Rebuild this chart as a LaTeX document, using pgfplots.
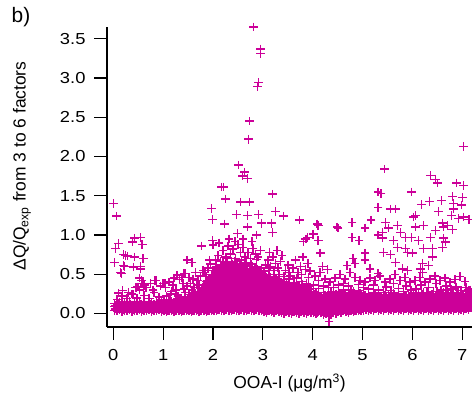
\documentclass[border=0pt]{standalone}
\usepackage{fontspec}
\setmainfont{Liberation Sans}
\newfontfamily\tickfont{Liberation Sans}[FakeStretch=1.15]
\usepackage{pgfplots}
\pgfplotsset{compat=1.18}
\definecolor{mag}{RGB}{204,0,153}
\pgfdeclareplotmark{magplus}{%
  \pgfsetstrokecolor{mag}%
  \pgfsetlinewidth{1.5pt}%
  \pgfpathmoveto{\pgfqpoint{\pgfplotmarksize}{0pt}}%
  \pgfpathlineto{\pgfqpoint{-\pgfplotmarksize}{0pt}}%
  \pgfpathmoveto{\pgfqpoint{0pt}{\pgfplotmarksize}}%
  \pgfpathlineto{\pgfqpoint{0pt}{-\pgfplotmarksize}}%
  \pgfusepathqstroke}
\pgfplotsset{pt/.style={only marks, mark=magplus, mark size=4.3pt, draw=mag}}
\begin{document}
\begin{tikzpicture}[x=1bp,y=1bp]
\path[use as bounding box] (0,0) rectangle (472,399);
\begin{axis}[
 at={(107bp,72bp)}, anchor=south west,
 scale only axis, width=365bp, height=299.7bp,
 xmin=-0.127, xmax=7.195, ymin=-0.172, ymax=3.646,
 axis x line*=bottom, axis y line*=left,
 axis line style={line width=1.2pt, -},
 tick align=outside, major tick length=13bp,
 tick style={line width=1.2pt, black},
 xtick={0,1,2,3,4,5,6,7}, ytick={0,0.5,1,1.5,2,2.5,3,3.5},
 minor tick num=0,
 yticklabel style={/pgf/number format/fixed, /pgf/number format/fixed zerofill, /pgf/number format/precision=1, xshift=-5bp},
 xticklabel style={yshift=-6bp},
 tick label style={font=\tickfont\fontsize{16}{19}\selectfont},
 /pgf/number format/assume math mode=true,
 xlabel={OOA-I (μg/m\textsuperscript{3})},
 ylabel={ΔQ/Q\textsubscript{exp} from 3 to 6 factors},
 label style={font=\fontsize{17.5}{21}\selectfont},
 xlabel style={at={(axis description cs:0.5,-0.187)}, anchor=center},
 ylabel style={at={(axis description cs:-0.233,0.537)}, anchor=center},
 clip=false,
]
\addplot[pt] coordinates {
(0.02,0.04)(0.02,0.09)(0.02,0.13)
(0.07,0.03)(0.07,0.08)(0.07,0.12)(0.07,0.18)
(0.12,0.05)(0.12,0.10)(0.12,0.14)
(0.17,0.02)(0.17,0.07)(0.17,0.11)(0.17,0.22)
(0.22,0.04)(0.22,0.09)(0.22,0.13)
(0.27,0.03)(0.27,0.08)(0.27,0.12)(0.27,0.19)
(0.32,0.05)(0.32,0.10)(0.32,0.15)
(0.37,0.02)(0.37,0.06)(0.37,0.11)(0.37,0.25)
(0.42,0.04)(0.42,0.09)(0.42,0.13)
(0.47,0.03)(0.47,0.07)(0.47,0.12)(0.47,0.20)
(0.52,0.05)(0.52,0.10)(0.52,0.14)(0.52,0.30)
(0.57,0.02)(0.57,0.08)(0.57,0.12)
(0.62,0.04)(0.62,0.09)(0.62,0.15)(0.62,0.23)
(0.67,0.03)(0.67,0.07)(0.67,0.11)
(0.72,0.05)(0.72,0.10)(0.72,0.14)(0.72,0.19)
(0.77,0.02)(0.77,0.08)(0.77,0.13)
(0.82,0.04)(0.82,0.09)(0.82,0.12)(0.82,0.27)
(0.87,0.03)(0.87,0.07)(0.87,0.14)
(0.92,0.05)(0.92,0.10)(0.92,0.13)(0.92,0.21)
(0.97,0.02)(0.97,0.08)(0.97,0.12)(0.97,0.17)
(0.045,0.06)(0.045,0.10)(0.095,0.07)(0.095,0.12)(0.145,0.06)(0.145,0.10)(0.195,0.05)(0.195,0.11)(0.245,0.07)(0.245,0.11)
(0.295,0.06)(0.295,0.10)(0.345,0.07)(0.345,0.12)(0.395,0.05)(0.395,0.09)(0.445,0.06)(0.445,0.11)(0.495,0.07)(0.495,0.10)
(0.545,0.06)(0.545,0.12)(0.595,0.05)(0.595,0.10)(0.645,0.07)(0.645,0.11)(0.695,0.06)(0.695,0.09)(0.745,0.07)(0.745,0.12)
(0.795,0.05)(0.795,0.10)(0.845,0.06)(0.845,0.11)(0.895,0.07)(0.895,0.10)(0.945,0.06)(0.945,0.12)(0.995,0.05)(0.995,0.10)
(0.56,0.42)(0.86,0.42)(0.50,0.34)(0.18,0.29)(0.30,0.27)(0.66,0.33)(0.75,0.38)(0.95,0.35)(0.40,0.24)(0.10,0.26)(0.80,0.30)(0.62,0.36)(0.45,0.33)
(0.00,1.40)(0.06,1.24)(0.10,0.89)(0.04,0.83)(0.38,0.91)(0.42,0.96)(0.54,0.97)(0.58,0.88)(0.20,0.75)(0.28,0.73)(0.42,0.72)(0.60,0.70)(0.02,0.65)(0.14,0.52)(0.22,0.60)(0.40,0.59)(0.54,0.60)
(0.24,0.74)(0.20,0.61)(0.54,0.57)(0.16,0.51)(0.52,0.45)(0.60,0.38)(0.48,0.34)(1.00,0.38)
};
\addplot[pt] coordinates {
(1.02,0.03)(1.02,0.07)(1.02,0.11)(1.02,0.15)
(1.07,0.02)(1.07,0.06)(1.07,0.10)(1.07,0.14)(1.07,0.22)
(1.12,0.04)(1.12,0.08)(1.12,0.12)(1.12,0.17)
(1.17,0.03)(1.17,0.07)(1.17,0.11)(1.17,0.15)(1.17,0.28)
(1.22,0.02)(1.22,0.06)(1.22,0.10)(1.22,0.14)
(1.27,0.04)(1.27,0.08)(1.27,0.12)(1.27,0.16)(1.27,0.24)
(1.32,0.03)(1.32,0.07)(1.32,0.11)(1.32,0.15)
(1.37,0.02)(1.37,0.06)(1.37,0.10)(1.37,0.14)(1.37,0.20)
(1.42,0.04)(1.42,0.08)(1.42,0.12)(1.42,0.17)(1.42,0.31)
(1.47,0.03)(1.47,0.07)(1.47,0.11)(1.47,0.15)
(1.045,0.05)(1.045,0.09)(1.045,0.13)(1.095,0.04)(1.095,0.08)(1.095,0.12)(1.145,0.06)(1.145,0.10)(1.145,0.14)
(1.195,0.05)(1.195,0.09)(1.195,0.13)(1.245,0.04)(1.245,0.08)(1.245,0.12)(1.245,0.18)(1.295,0.06)(1.295,0.10)(1.295,0.14)
(1.345,0.05)(1.345,0.09)(1.345,0.13)(1.345,0.19)(1.395,0.04)(1.395,0.08)(1.395,0.12)(1.395,0.16)
(1.445,0.06)(1.445,0.10)(1.445,0.14)(1.445,0.21)(1.495,0.05)(1.495,0.09)(1.495,0.13)(1.495,0.18)
(1.05,0.33)(1.12,0.40)(1.20,0.36)(1.26,0.30)(1.33,0.43)(1.40,0.38)(1.44,0.27)(1.15,0.25)(1.30,0.22)(1.48,0.35)(1.38,0.46)(1.22,0.45)(0.84,0.42)(1.04,0.38)(1.28,0.49)(1.44,0.51)(1.52,0.46)(1.48,0.68)
(1.52,0.03)(1.52,0.07)(1.52,0.11)(1.52,0.15)(1.52,0.19)(1.52,0.24)
(1.57,0.02)(1.57,0.06)(1.57,0.10)(1.57,0.14)(1.57,0.18)(1.57,0.22)
(1.62,0.04)(1.62,0.08)(1.62,0.12)(1.62,0.16)(1.62,0.20)(1.62,0.26)(1.62,0.33)
(1.67,0.03)(1.67,0.07)(1.67,0.11)(1.67,0.15)(1.67,0.19)(1.67,0.23)
(1.72,0.02)(1.72,0.06)(1.72,0.10)(1.72,0.14)(1.72,0.18)(1.72,0.22)(1.72,0.28)(1.72,0.36)
(1.77,0.04)(1.77,0.08)(1.77,0.12)(1.77,0.16)(1.77,0.20)(1.77,0.25)(1.77,0.31)
(1.545,0.05)(1.545,0.09)(1.545,0.13)(1.545,0.17)(1.545,0.21)(1.595,0.04)(1.595,0.08)(1.595,0.12)(1.595,0.16)(1.595,0.20)(1.595,0.25)
(1.645,0.06)(1.645,0.10)(1.645,0.14)(1.645,0.18)(1.645,0.22)(1.695,0.05)(1.695,0.09)(1.695,0.13)(1.695,0.17)(1.695,0.21)(1.695,0.26)
(1.745,0.04)(1.745,0.08)(1.745,0.12)(1.745,0.16)(1.745,0.20)(1.745,0.24)(1.795,0.06)(1.795,0.10)(1.795,0.14)(1.795,0.18)(1.795,0.22)(1.795,0.27)(1.795,0.33)
(1.55,0.38)(1.60,0.44)(1.65,0.52)(1.70,0.42)(1.75,0.48)(1.58,0.30)(1.68,0.37)(1.80,0.55)(1.42,0.51)(1.58,0.65)(1.77,0.86)
};
\addplot[pt] coordinates {
(1.82,0.03)(1.82,0.07)(1.82,0.11)(1.82,0.15)(1.82,0.19)(1.82,0.23)(1.82,0.27)(1.82,0.31)(1.82,0.37)
(1.87,0.02)(1.87,0.06)(1.87,0.10)(1.87,0.14)(1.87,0.18)(1.87,0.22)(1.87,0.26)(1.87,0.30)(1.87,0.35)(1.87,0.41)
(1.92,0.04)(1.92,0.08)(1.92,0.12)(1.92,0.16)(1.92,0.20)(1.92,0.24)(1.92,0.28)(1.92,0.33)(1.92,0.39)(1.92,0.45)
(1.97,0.03)(1.97,0.07)(1.97,0.11)(1.97,0.15)(1.97,0.19)(1.97,0.23)(1.97,0.27)(1.97,0.32)(1.97,0.38)(1.97,0.44)(1.97,0.50)
(1.845,0.05)(1.845,0.09)(1.845,0.13)(1.845,0.17)(1.845,0.21)(1.845,0.25)(1.845,0.29)(1.845,0.34)
(1.895,0.04)(1.895,0.08)(1.895,0.12)(1.895,0.16)(1.895,0.20)(1.895,0.24)(1.895,0.28)(1.895,0.32)(1.895,0.38)
(1.945,0.06)(1.945,0.10)(1.945,0.14)(1.945,0.18)(1.945,0.22)(1.945,0.26)(1.945,0.31)(1.945,0.36)(1.945,0.42)
(1.995,0.05)(1.995,0.09)(1.995,0.13)(1.995,0.17)(1.995,0.21)(1.995,0.25)(1.995,0.30)(1.995,0.35)(1.995,0.41)(1.995,0.47)
(1.84,0.52)(1.90,0.58)(1.95,0.63)(1.99,0.55)(1.86,0.47)(1.93,0.68)(2.00,0.87)(1.99,0.93)(1.97,1.34)(1.99,1.20)(2.21,1.61)
(2.02,0.04)(2.02,0.09)(2.02,0.14)(2.02,0.19)(2.02,0.24)(2.02,0.29)(2.02,0.34)(2.02,0.39)(2.02,0.44)(2.02,0.49)(2.02,0.55)
(2.07,0.03)(2.07,0.07)(2.07,0.12)(2.07,0.17)(2.07,0.22)(2.07,0.27)(2.07,0.32)(2.07,0.37)(2.07,0.42)(2.07,0.47)(2.07,0.52)(2.07,0.60)
(2.12,0.05)(2.12,0.10)(2.12,0.15)(2.12,0.20)(2.12,0.25)(2.12,0.30)(2.12,0.35)(2.12,0.40)(2.12,0.45)(2.12,0.50)(2.12,0.57)
(2.17,0.04)(2.17,0.08)(2.17,0.13)(2.17,0.18)(2.17,0.23)(2.17,0.28)(2.17,0.33)(2.17,0.38)(2.17,0.43)(2.17,0.48)(2.17,0.54)(2.17,0.62)
(2.22,0.03)(2.22,0.09)(2.22,0.14)(2.22,0.19)(2.22,0.24)(2.22,0.29)(2.22,0.34)(2.22,0.39)(2.22,0.44)(2.22,0.50)(2.22,0.58)
(2.27,0.05)(2.27,0.10)(2.27,0.15)(2.27,0.20)(2.27,0.25)(2.27,0.30)(2.27,0.35)(2.27,0.40)(2.27,0.46)(2.27,0.52)(2.27,0.61)(2.27,0.70)
(2.32,0.04)(2.32,0.08)(2.32,0.13)(2.32,0.18)(2.32,0.23)(2.32,0.28)(2.32,0.33)(2.32,0.38)(2.32,0.43)(2.32,0.49)(2.32,0.56)
(2.37,0.03)(2.37,0.09)(2.37,0.14)(2.37,0.19)(2.37,0.24)(2.37,0.29)(2.37,0.34)(2.37,0.39)(2.37,0.45)(2.37,0.51)(2.37,0.59)(2.37,0.66)
};
\addplot[pt] coordinates {
(2.045,0.06)(2.045,0.11)(2.045,0.16)(2.045,0.21)(2.045,0.26)(2.045,0.31)(2.045,0.36)(2.045,0.41)(2.045,0.46)(2.045,0.52)(2.045,0.58)
(2.095,0.05)(2.095,0.10)(2.095,0.15)(2.095,0.20)(2.095,0.25)(2.095,0.30)(2.095,0.35)(2.095,0.40)(2.095,0.45)(2.095,0.50)(2.095,0.56)
(2.145,0.07)(2.145,0.12)(2.145,0.17)(2.145,0.22)(2.145,0.27)(2.145,0.32)(2.145,0.37)(2.145,0.42)(2.145,0.47)(2.145,0.53)(2.145,0.60)
(2.195,0.06)(2.195,0.11)(2.195,0.16)(2.195,0.21)(2.195,0.26)(2.195,0.31)(2.195,0.36)(2.195,0.41)(2.195,0.46)(2.195,0.51)(2.195,0.58)(2.195,0.66)
(2.245,0.05)(2.245,0.11)(2.245,0.16)(2.245,0.21)(2.245,0.26)(2.245,0.31)(2.245,0.36)(2.245,0.42)(2.245,0.47)(2.245,0.54)(2.245,0.63)
(2.295,0.07)(2.295,0.12)(2.295,0.17)(2.295,0.22)(2.295,0.27)(2.295,0.32)(2.295,0.37)(2.295,0.43)(2.295,0.49)(2.295,0.56)(2.295,0.65)
(2.345,0.06)(2.345,0.11)(2.345,0.16)(2.345,0.21)(2.345,0.26)(2.345,0.31)(2.345,0.36)(2.345,0.41)(2.345,0.46)(2.345,0.53)(2.345,0.62)
(2.395,0.05)(2.395,0.11)(2.395,0.16)(2.395,0.21)(2.395,0.26)(2.395,0.31)(2.395,0.37)(2.395,0.42)(2.395,0.48)(2.395,0.55)(2.395,0.63)
(2.445,0.07)(2.445,0.12)(2.445,0.17)(2.445,0.22)(2.445,0.27)(2.445,0.32)(2.445,0.38)(2.445,0.44)(2.445,0.50)(2.445,0.57)(2.445,0.66)
(2.495,0.06)(2.495,0.11)(2.495,0.16)(2.495,0.21)(2.495,0.26)(2.495,0.31)(2.495,0.36)(2.495,0.41)(2.495,0.47)(2.495,0.54)(2.495,0.61)
(2.545,0.05)(2.545,0.11)(2.545,0.16)(2.545,0.21)(2.545,0.26)(2.545,0.32)(2.545,0.37)(2.545,0.43)(2.545,0.49)(2.545,0.56)(2.545,0.64)
(2.595,0.07)(2.595,0.12)(2.595,0.17)(2.595,0.22)(2.595,0.27)(2.595,0.33)(2.595,0.39)(2.595,0.45)(2.595,0.51)(2.595,0.58)
(2.42,0.05)(2.42,0.10)(2.42,0.15)(2.42,0.20)(2.42,0.25)(2.42,0.30)(2.42,0.35)(2.42,0.41)(2.42,0.47)(2.42,0.53)(2.42,0.60)
(2.47,0.04)(2.47,0.08)(2.47,0.13)(2.47,0.18)(2.47,0.23)(2.47,0.28)(2.47,0.33)(2.47,0.38)(2.47,0.44)(2.47,0.50)(2.47,0.57)(2.47,0.64)
(2.52,0.03)(2.52,0.09)(2.52,0.14)(2.52,0.19)(2.52,0.24)(2.52,0.29)(2.52,0.34)(2.52,0.40)(2.52,0.46)(2.52,0.52)(2.52,0.58)
(2.57,0.05)(2.57,0.10)(2.57,0.15)(2.57,0.20)(2.57,0.25)(2.57,0.30)(2.57,0.36)(2.57,0.42)(2.57,0.48)(2.57,0.54)(2.57,0.61)(2.57,0.68)
(2.05,0.68)(2.10,0.74)(2.15,0.66)(2.20,0.80)(2.25,0.72)(2.30,0.86)(2.35,0.76)(2.40,0.82)(2.45,0.70)(2.50,0.88)(2.55,0.78)(2.60,0.84)(2.12,0.90)(2.32,0.95)(2.44,0.92)(2.23,1.14)(2.49,1.02)(2.47,1.26)(2.55,1.42)(2.25,1.46)(2.17,1.61)(2.51,1.89)(2.63,1.80)(2.59,1.75)(2.69,1.72)(2.73,2.45)(2.71,2.22)(2.91,2.94)(2.89,2.89)(2.95,3.37)(2.95,3.31)(2.81,3.65)
};
\addplot[pt] coordinates {
(2.62,0.04)(2.62,0.09)(2.62,0.14)(2.62,0.19)(2.62,0.24)(2.62,0.29)(2.62,0.34)(2.62,0.39)(2.62,0.45)(2.62,0.51)(2.62,0.58)
(2.67,0.03)(2.67,0.08)(2.67,0.13)(2.67,0.18)(2.67,0.23)(2.67,0.28)(2.67,0.33)(2.67,0.38)(2.67,0.43)(2.67,0.49)(2.67,0.56)(2.67,0.65)
(2.72,0.05)(2.72,0.10)(2.72,0.15)(2.72,0.20)(2.72,0.25)(2.72,0.30)(2.72,0.35)(2.72,0.40)(2.72,0.46)(2.72,0.53)
(2.77,0.04)(2.77,0.09)(2.77,0.14)(2.77,0.19)(2.77,0.24)(2.77,0.29)(2.77,0.34)(2.77,0.39)(2.77,0.44)(2.77,0.50)(2.77,0.57)(2.77,0.63)
(2.82,0.03)(2.82,0.08)(2.82,0.13)(2.82,0.18)(2.82,0.23)(2.82,0.28)(2.82,0.33)(2.82,0.38)(2.82,0.43)(2.82,0.48)(2.82,0.55)
(2.87,0.05)(2.87,0.10)(2.87,0.15)(2.87,0.20)(2.87,0.25)(2.87,0.30)(2.87,0.35)(2.87,0.41)(2.87,0.47)(2.87,0.53)(2.87,0.60)(2.87,0.69)
(2.92,0.04)(2.92,0.09)(2.92,0.14)(2.92,0.19)(2.92,0.24)(2.92,0.29)(2.92,0.34)(2.92,0.39)(2.92,0.44)(2.92,0.50)
(2.97,0.03)(2.97,0.08)(2.97,0.13)(2.97,0.18)(2.97,0.23)(2.97,0.28)(2.97,0.33)(2.97,0.38)(2.97,0.44)(2.97,0.51)(2.97,0.58)
(2.645,0.06)(2.645,0.11)(2.645,0.16)(2.645,0.21)(2.645,0.26)(2.645,0.31)(2.645,0.36)(2.645,0.42)(2.645,0.48)(2.645,0.54)(2.645,0.61)
(2.695,0.05)(2.695,0.10)(2.695,0.15)(2.695,0.20)(2.695,0.25)(2.695,0.30)(2.695,0.36)(2.695,0.41)(2.695,0.46)(2.695,0.52)(2.695,0.60)
(2.745,0.07)(2.745,0.12)(2.745,0.17)(2.745,0.22)(2.745,0.27)(2.745,0.32)(2.745,0.37)(2.745,0.43)(2.745,0.49)(2.745,0.56)
(2.795,0.06)(2.795,0.11)(2.795,0.16)(2.795,0.21)(2.795,0.26)(2.795,0.31)(2.795,0.36)(2.795,0.41)(2.795,0.47)(2.795,0.53)(2.795,0.60)
(2.845,0.05)(2.845,0.10)(2.845,0.15)(2.845,0.20)(2.845,0.25)(2.845,0.30)(2.845,0.35)(2.845,0.40)(2.845,0.45)(2.845,0.51)(2.845,0.58)
(2.895,0.07)(2.895,0.12)(2.895,0.17)(2.895,0.22)(2.895,0.27)(2.895,0.32)(2.895,0.38)(2.895,0.44)(2.895,0.50)(2.895,0.56)
(2.945,0.06)(2.945,0.11)(2.945,0.16)(2.945,0.21)(2.945,0.26)(2.945,0.31)(2.945,0.36)(2.945,0.41)(2.945,0.47)(2.945,0.54)
(2.995,0.05)(2.995,0.10)(2.995,0.15)(2.995,0.20)(2.995,0.25)(2.995,0.30)(2.995,0.35)(2.995,0.41)(2.995,0.48)
(2.64,0.72)(2.70,0.78)(2.75,0.70)(2.80,0.83)(2.85,0.76)(2.90,0.72)(2.95,0.80)(2.69,1.10)(2.69,1.25)(2.73,1.42)(2.91,1.26)(2.87,1.00)(2.97,1.15)(2.78,0.92)(2.60,0.95)
};
\addplot[pt] coordinates {
(3.02,0.02)(3.02,0.06)(3.02,0.11)(3.02,0.16)(3.02,0.21)(3.02,0.26)(3.02,0.31)(3.02,0.36)(3.02,0.41)(3.02,0.47)(3.02,0.54)
(3.07,0.01)(3.07,0.05)(3.07,0.10)(3.07,0.15)(3.07,0.20)(3.07,0.25)(3.07,0.30)(3.07,0.35)(3.07,0.40)(3.07,0.46)
(3.12,0.03)(3.12,0.07)(3.12,0.12)(3.12,0.17)(3.12,0.22)(3.12,0.27)(3.12,0.32)(3.12,0.37)(3.12,0.43)(3.12,0.50)(3.12,0.58)
(3.17,0.02)(3.17,0.06)(3.17,0.11)(3.17,0.16)(3.17,0.21)(3.17,0.26)(3.17,0.31)(3.17,0.36)(3.17,0.42)
(3.22,0.01)(3.22,0.05)(3.22,0.10)(3.22,0.15)(3.22,0.20)(3.22,0.25)(3.22,0.30)(3.22,0.35)(3.22,0.40)(3.22,0.47)(3.22,0.55)
(3.27,0.03)(3.27,0.07)(3.27,0.12)(3.27,0.17)(3.27,0.22)(3.27,0.27)(3.27,0.32)(3.27,0.38)(3.27,0.44)
(3.32,0.02)(3.32,0.06)(3.32,0.11)(3.32,0.16)(3.32,0.21)(3.32,0.26)(3.32,0.31)(3.32,0.36)(3.32,0.42)(3.32,0.50)
(3.37,0.01)(3.37,0.05)(3.37,0.10)(3.37,0.15)(3.37,0.20)(3.37,0.25)(3.37,0.30)(3.37,0.35)(3.37,0.40)
(3.045,0.04)(3.045,0.08)(3.045,0.13)(3.045,0.18)(3.045,0.23)(3.045,0.28)(3.045,0.33)(3.045,0.38)(3.045,0.44)(3.045,0.50)
(3.095,0.03)(3.095,0.07)(3.095,0.12)(3.095,0.17)(3.095,0.22)(3.095,0.27)(3.095,0.32)(3.095,0.37)(3.095,0.43)
(3.145,0.05)(3.145,0.09)(3.145,0.14)(3.145,0.19)(3.145,0.24)(3.145,0.29)(3.145,0.34)(3.145,0.40)(3.145,0.46)
(3.195,0.04)(3.195,0.08)(3.195,0.13)(3.195,0.18)(3.195,0.23)(3.195,0.28)(3.195,0.33)(3.195,0.39)
(3.245,0.03)(3.245,0.07)(3.245,0.12)(3.245,0.17)(3.245,0.22)(3.245,0.27)(3.245,0.32)(3.245,0.37)(3.245,0.43)
(3.295,0.05)(3.295,0.09)(3.295,0.14)(3.295,0.19)(3.295,0.24)(3.295,0.29)(3.295,0.35)(3.295,0.41)
(3.345,0.04)(3.345,0.08)(3.345,0.13)(3.345,0.18)(3.345,0.23)(3.345,0.28)(3.345,0.33)(3.345,0.39)
(3.395,0.03)(3.395,0.07)(3.395,0.12)(3.395,0.17)(3.395,0.22)(3.395,0.27)(3.395,0.32)(3.395,0.38)
(3.05,0.62)(3.10,0.68)(3.15,0.60)(3.20,0.72)(3.25,0.64)(3.30,0.58)(3.35,0.66)(3.19,1.52)(3.25,1.30)(3.41,1.24)(3.17,1.15)(3.19,1.03)(3.13,0.78)(3.28,0.80)(3.38,0.74)(3.73,1.19)
};
\addplot[pt] coordinates {
(3.42,0.00)(3.42,0.04)(3.42,0.09)(3.42,0.14)(3.42,0.19)(3.42,0.24)(3.42,0.29)(3.42,0.34)(3.42,0.40)(3.42,0.47)
(3.47,0.02)(3.47,0.06)(3.47,0.11)(3.47,0.16)(3.47,0.21)(3.47,0.26)(3.47,0.31)(3.47,0.37)
(3.52,0.01)(3.52,0.05)(3.52,0.10)(3.52,0.15)(3.52,0.20)(3.52,0.25)(3.52,0.30)(3.52,0.36)(3.52,0.44)(3.52,0.52)
(3.57,0.00)(3.57,0.03)(3.57,0.08)(3.57,0.13)(3.57,0.18)(3.57,0.23)(3.57,0.28)(3.57,0.33)
(3.62,0.02)(3.62,0.06)(3.62,0.11)(3.62,0.16)(3.62,0.21)(3.62,0.26)(3.62,0.32)(3.62,0.39)
(3.67,0.01)(3.67,0.05)(3.67,0.10)(3.67,0.15)(3.67,0.20)(3.67,0.25)(3.67,0.30)(3.67,0.35)(3.67,0.45)
(3.72,0.00)(3.72,0.04)(3.72,0.09)(3.72,0.14)(3.72,0.19)(3.72,0.24)(3.72,0.29)(3.72,0.36)
(3.77,0.02)(3.77,0.06)(3.77,0.11)(3.77,0.16)(3.77,0.21)(3.77,0.26)(3.77,0.33)(3.77,0.41)(3.77,0.50)
(3.82,0.01)(3.82,0.05)(3.82,0.10)(3.82,0.15)(3.82,0.20)(3.82,0.25)(3.82,0.31)
(3.87,0.00)(3.87,0.04)(3.87,0.09)(3.87,0.14)(3.87,0.19)(3.87,0.24)(3.87,0.30)(3.87,0.38)
(3.92,0.02)(3.92,0.06)(3.92,0.11)(3.92,0.16)(3.92,0.21)(3.92,0.27)(3.92,0.35)(3.92,0.46)
(3.97,0.01)(3.97,0.05)(3.97,0.10)(3.97,0.15)(3.97,0.20)(3.97,0.26)
(3.445,0.02)(3.445,0.07)(3.445,0.12)(3.445,0.17)(3.445,0.22)(3.445,0.27)(3.445,0.32)
(3.495,0.04)(3.495,0.08)(3.495,0.13)(3.495,0.18)(3.495,0.23)(3.495,0.28)(3.495,0.34)
(3.545,0.03)(3.545,0.07)(3.545,0.12)(3.545,0.17)(3.545,0.22)(3.545,0.27)(3.545,0.33)
(3.595,0.02)(3.595,0.06)(3.595,0.11)(3.595,0.16)(3.595,0.21)(3.595,0.26)(3.595,0.31)
(3.645,0.04)(3.645,0.08)(3.645,0.13)(3.645,0.18)(3.645,0.23)(3.645,0.29)(3.645,0.35)
(3.695,0.03)(3.695,0.07)(3.695,0.12)(3.695,0.17)(3.695,0.22)(3.695,0.27)(3.695,0.33)
(3.745,0.02)(3.745,0.06)(3.745,0.11)(3.745,0.16)(3.745,0.21)(3.745,0.27)
(3.795,0.04)(3.795,0.08)(3.795,0.13)(3.795,0.18)(3.795,0.23)(3.795,0.29)(3.795,0.37)
(3.845,0.03)(3.845,0.07)(3.845,0.12)(3.845,0.17)(3.845,0.22)(3.845,0.28)
(3.895,0.02)(3.895,0.06)(3.895,0.11)(3.895,0.16)(3.895,0.21)(3.895,0.27)(3.895,0.34)
(3.945,0.04)(3.945,0.08)(3.945,0.13)(3.945,0.18)(3.945,0.24)(3.945,0.31)
(3.995,0.03)(3.995,0.07)(3.995,0.12)(3.995,0.17)(3.995,0.23)
(3.45,0.55)(3.50,0.62)(3.55,0.48)(3.60,0.58)(3.65,0.68)(3.70,0.52)(3.75,0.60)(3.80,0.72)(3.85,0.56)(3.90,0.64)(3.95,0.54)(3.89,0.97)(3.81,0.92)(3.86,0.95)(4.01,1.01)(4.11,0.93)(4.09,1.14)(4.15,0.77)
};
\addplot[pt] coordinates {
(4.02,0.01)(4.02,0.05)(4.02,0.10)(4.02,0.15)(4.02,0.21)(4.02,0.28)(4.02,0.36)
(4.07,0.00)(4.07,0.04)(4.07,0.09)(4.07,0.14)(4.07,0.19)(4.07,0.26)
(4.12,0.02)(4.12,0.06)(4.12,0.11)(4.12,0.17)(4.12,0.24)(4.12,0.32)(4.12,0.42)
(4.17,0.01)(4.17,0.05)(4.17,0.10)(4.17,0.15)(4.17,0.22)
(4.22,-0.01)(4.22,0.03)(4.22,0.08)(4.22,0.13)(4.22,0.19)(4.22,0.27)(4.22,0.35)
(4.27,0.00)(4.27,0.04)(4.27,0.09)(4.27,0.14)(4.27,0.20)
(4.32,-0.03)(4.32,0.02)(4.32,0.06)(4.32,0.11)(4.32,0.17)(4.32,0.25)(4.32,0.33)
(4.37,-0.01)(4.37,0.03)(4.37,0.08)(4.37,0.13)(4.37,0.19)(4.37,0.28)
(4.045,0.02)(4.045,0.07)(4.045,0.12)(4.045,0.18)(4.045,0.24)(4.095,0.01)(4.095,0.06)(4.095,0.11)(4.095,0.16)(4.095,0.22)
(4.145,0.03)(4.145,0.08)(4.145,0.13)(4.145,0.20)(4.195,0.02)(4.195,0.07)(4.195,0.12)(4.195,0.18)
(4.245,0.01)(4.245,0.05)(4.245,0.10)(4.245,0.16)(4.245,0.23)(4.295,0.02)(4.295,0.06)(4.295,0.11)(4.295,0.17)
(4.345,0.00)(4.345,0.04)(4.345,0.09)(4.345,0.15)(4.345,0.22)(4.395,0.01)(4.395,0.05)(4.395,0.10)(4.395,0.16)
(4.05,0.48)(4.15,0.52)(4.25,0.44)(4.35,0.40)(4.11,1.12)(4.49,1.10)(4.20,0.60)(4.30,0.56)(4.33,-0.10)
(4.42,0.01)(4.42,0.05)(4.42,0.10)(4.42,0.15)(4.42,0.20)(4.42,0.26)(4.42,0.33)
(4.47,0.00)(4.47,0.04)(4.47,0.09)(4.47,0.14)(4.47,0.19)(4.47,0.25)
(4.52,0.02)(4.52,0.06)(4.52,0.11)(4.52,0.16)(4.52,0.21)(4.52,0.28)(4.52,0.36)
(4.57,0.01)(4.57,0.05)(4.57,0.10)(4.57,0.15)(4.57,0.20)(4.57,0.26)
(4.62,0.03)(4.62,0.07)(4.62,0.12)(4.62,0.17)(4.62,0.23)(4.62,0.30)(4.62,0.38)
(4.67,0.02)(4.67,0.06)(4.67,0.11)(4.67,0.16)(4.67,0.22)
(4.72,0.01)(4.72,0.05)(4.72,0.10)(4.72,0.15)(4.72,0.20)(4.72,0.27)(4.72,0.35)
(4.77,0.03)(4.77,0.07)(4.77,0.12)(4.77,0.17)(4.77,0.23)(4.77,0.30)
(4.82,0.02)(4.82,0.06)(4.82,0.11)(4.82,0.16)(4.82,0.21)(4.82,0.28)
(4.87,0.04)(4.87,0.08)(4.87,0.13)(4.87,0.18)(4.87,0.24)
(4.92,0.03)(4.92,0.07)(4.92,0.12)(4.92,0.17)(4.92,0.22)(4.92,0.29)(4.92,0.37)
(4.97,0.04)(4.97,0.09)(4.97,0.14)(4.97,0.19)(4.97,0.25)
(4.445,0.03)(4.445,0.07)(4.445,0.12)(4.445,0.17)(4.445,0.22)(4.495,0.02)(4.495,0.06)(4.495,0.11)(4.495,0.17)
(4.545,0.04)(4.545,0.08)(4.545,0.13)(4.545,0.18)(4.545,0.24)(4.595,0.03)(4.595,0.07)(4.595,0.12)(4.595,0.18)
(4.645,0.05)(4.645,0.09)(4.645,0.14)(4.645,0.19)(4.645,0.26)(4.695,0.04)(4.695,0.08)(4.695,0.13)(4.695,0.19)
(4.745,0.03)(4.745,0.07)(4.745,0.12)(4.745,0.17)(4.745,0.24)(4.795,0.05)(4.795,0.09)(4.795,0.14)(4.795,0.20)
(4.845,0.04)(4.845,0.08)(4.845,0.13)(4.845,0.18)(4.845,0.25)(4.895,0.06)(4.895,0.10)(4.895,0.15)(4.895,0.21)
(4.945,0.05)(4.945,0.09)(4.945,0.14)(4.945,0.19)(4.945,0.26)(4.995,0.06)(4.995,0.11)(4.995,0.16)(4.995,0.22)
(4.45,0.45)(4.55,0.50)(4.65,0.44)(4.75,0.52)(4.85,0.46)(4.95,0.42)(4.69,0.61)(4.85,0.64)(4.81,0.70)(4.79,0.97)(4.93,0.93)(4.79,1.16)(4.51,1.09)
};
\addplot[pt] coordinates {
(5.02,0.04)(5.02,0.09)(5.02,0.14)(5.02,0.19)(5.02,0.25)(5.02,0.33)
(5.07,0.05)(5.07,0.10)(5.07,0.15)(5.07,0.21)
(5.12,0.03)(5.12,0.08)(5.12,0.13)(5.12,0.18)(5.12,0.24)(5.12,0.31)
(5.17,0.05)(5.17,0.10)(5.17,0.15)(5.17,0.20)
(5.22,0.04)(5.22,0.09)(5.22,0.14)(5.22,0.19)(5.22,0.26)(5.22,0.36)
(5.27,0.06)(5.27,0.11)(5.27,0.16)(5.27,0.22)
(5.32,0.03)(5.32,0.08)(5.32,0.13)(5.32,0.18)(5.32,0.24)(5.32,0.30)
(5.37,0.05)(5.37,0.10)(5.37,0.15)(5.37,0.21)
(5.42,0.04)(5.42,0.09)(5.42,0.14)(5.42,0.19)(5.42,0.27)
(5.47,0.06)(5.47,0.11)(5.47,0.16)(5.47,0.22)(5.47,0.34)
(5.52,0.03)(5.52,0.08)(5.52,0.13)(5.52,0.18)(5.52,0.24)
(5.57,0.05)(5.57,0.10)(5.57,0.15)(5.57,0.21)(5.57,0.29)
(5.62,0.04)(5.62,0.09)(5.62,0.14)(5.62,0.19)(5.62,0.26)(5.62,0.38)
(5.67,0.06)(5.67,0.11)(5.67,0.16)(5.67,0.22)
(5.72,0.03)(5.72,0.08)(5.72,0.13)(5.72,0.18)(5.72,0.25)(5.72,0.32)
(5.77,0.05)(5.77,0.10)(5.77,0.15)(5.77,0.21)
(5.82,0.04)(5.82,0.09)(5.82,0.14)(5.82,0.19)(5.82,0.28)
(5.87,0.06)(5.87,0.11)(5.87,0.16)(5.87,0.23)(5.87,0.35)
(5.92,0.03)(5.92,0.08)(5.92,0.13)(5.92,0.18)(5.92,0.24)
(5.97,0.05)(5.97,0.10)(5.97,0.15)(5.97,0.21)(5.97,0.30)
(5.045,0.07)(5.045,0.12)(5.045,0.17)(5.045,0.23)(5.095,0.07)(5.095,0.12)(5.095,0.18)(5.145,0.06)(5.145,0.11)(5.145,0.16)(5.145,0.21)
(5.195,0.07)(5.195,0.12)(5.195,0.17)(5.245,0.06)(5.245,0.11)(5.245,0.16)(5.245,0.23)(5.295,0.08)(5.295,0.13)(5.295,0.19)
(5.345,0.06)(5.345,0.11)(5.345,0.16)(5.345,0.21)(5.395,0.07)(5.395,0.12)(5.395,0.18)(5.445,0.06)(5.445,0.11)(5.445,0.16)(5.445,0.23)
(5.495,0.08)(5.495,0.13)(5.495,0.19)(5.545,0.06)(5.545,0.11)(5.545,0.16)(5.545,0.21)(5.595,0.07)(5.595,0.12)(5.595,0.18)
(5.645,0.06)(5.645,0.11)(5.645,0.16)(5.645,0.23)(5.695,0.08)(5.695,0.13)(5.695,0.19)(5.745,0.06)(5.745,0.11)(5.745,0.16)(5.745,0.21)
(5.795,0.07)(5.795,0.12)(5.795,0.18)(5.845,0.06)(5.845,0.11)(5.845,0.16)(5.845,0.23)(5.895,0.08)(5.895,0.13)(5.895,0.19)
(5.945,0.06)(5.945,0.11)(5.945,0.16)(5.945,0.21)(5.995,0.07)(5.995,0.12)(5.995,0.18)
(5.05,0.40)(5.15,0.45)(5.25,0.42)(5.35,0.48)(5.45,0.40)(5.55,0.44)(5.65,0.50)(5.75,0.42)(5.85,0.46)(5.95,0.40)(5.05,0.68)(5.05,0.77)(5.15,0.57)(5.31,0.51)(5.42,0.78)(5.56,0.75)(5.66,0.65)(5.80,0.57)(5.90,0.55)(5.90,0.78)(6.00,0.77)(5.70,0.84)(5.86,0.83)(5.62,0.93)(5.31,1.00)(5.40,0.96)(5.40,1.03)(5.52,1.09)(5.76,1.03)(5.86,0.97)(5.98,0.97)(5.05,1.09)(5.17,1.19)(5.46,1.16)(5.70,1.12)(5.31,1.35)(5.56,1.33)(5.66,1.33)(5.31,1.55)(5.37,1.53)(5.98,1.55)(5.44,1.84)(6.02,1.23)(6.06,1.25)(6.06,1.10)
};
\addplot[pt] coordinates {
(6.02,0.04)(6.02,0.09)(6.02,0.14)(6.02,0.19)(6.02,0.26)
(6.07,0.06)(6.07,0.11)(6.07,0.16)(6.07,0.22)(6.07,0.31)
(6.12,0.03)(6.12,0.08)(6.12,0.13)(6.12,0.18)(6.12,0.24)
(6.17,0.05)(6.17,0.10)(6.17,0.15)(6.17,0.21)(6.17,0.36)
(6.22,0.04)(6.22,0.09)(6.22,0.14)(6.22,0.20)(6.22,0.27)
(6.27,0.06)(6.27,0.11)(6.27,0.16)(6.27,0.22)
(6.32,0.03)(6.32,0.08)(6.32,0.13)(6.32,0.18)(6.32,0.25)(6.32,0.33)
(6.37,0.05)(6.37,0.10)(6.37,0.15)(6.37,0.21)
(6.42,0.04)(6.42,0.09)(6.42,0.14)(6.42,0.19)(6.42,0.28)
(6.47,0.06)(6.47,0.11)(6.47,0.16)(6.47,0.22)(6.47,0.38)
(6.52,0.03)(6.52,0.08)(6.52,0.13)(6.52,0.18)(6.52,0.25)
(6.57,0.05)(6.57,0.10)(6.57,0.15)(6.57,0.21)(6.57,0.30)
(6.62,0.04)(6.62,0.09)(6.62,0.14)(6.62,0.20)(6.62,0.27)
(6.67,0.06)(6.67,0.11)(6.67,0.16)(6.67,0.23)(6.67,0.35)
(6.72,0.03)(6.72,0.08)(6.72,0.13)(6.72,0.18)(6.72,0.25)
(6.77,0.05)(6.77,0.10)(6.77,0.15)(6.77,0.22)(6.77,0.31)
(6.82,0.04)(6.82,0.09)(6.82,0.14)(6.82,0.19)(6.82,0.26)
(6.87,0.06)(6.87,0.11)(6.87,0.16)(6.87,0.22)(6.87,0.34)
(6.92,0.03)(6.92,0.08)(6.92,0.13)(6.92,0.18)(6.92,0.27)
(6.97,0.05)(6.97,0.10)(6.97,0.15)(6.97,0.21)(6.97,0.29)
(7.02,0.04)(7.02,0.09)(7.02,0.14)(7.02,0.19)(7.02,0.25)
(7.07,0.06)(7.07,0.11)(7.07,0.17)(7.07,0.24)(7.07,0.33)
(7.12,0.05)(7.12,0.10)(7.12,0.15)(7.12,0.22)(7.12,0.30)
(7.17,0.07)(7.17,0.12)(7.17,0.19)(7.17,0.27)
(6.045,0.06)(6.045,0.11)(6.045,0.16)(6.045,0.22)(6.095,0.08)(6.095,0.13)(6.095,0.19)(6.145,0.06)(6.145,0.11)(6.145,0.16)
(6.195,0.07)(6.195,0.12)(6.195,0.18)(6.195,0.25)(6.245,0.06)(6.245,0.11)(6.245,0.17)(6.295,0.08)(6.295,0.13)(6.295,0.19)(6.295,0.27)
(6.345,0.06)(6.345,0.11)(6.345,0.16)(6.395,0.07)(6.395,0.12)(6.395,0.18)(6.395,0.24)(6.445,0.06)(6.445,0.11)(6.445,0.17)
(6.495,0.08)(6.495,0.13)(6.495,0.19)(6.495,0.28)(6.545,0.06)(6.545,0.11)(6.545,0.16)(6.595,0.07)(6.595,0.12)(6.595,0.18)(6.595,0.24)
(6.645,0.06)(6.645,0.11)(6.645,0.17)(6.695,0.08)(6.695,0.13)(6.695,0.19)(6.695,0.29)(6.745,0.06)(6.745,0.11)(6.745,0.16)
(6.795,0.07)(6.795,0.12)(6.795,0.18)(6.795,0.25)(6.845,0.06)(6.845,0.11)(6.845,0.17)(6.895,0.08)(6.895,0.13)(6.895,0.19)(6.895,0.27)
(6.945,0.06)(6.945,0.11)(6.945,0.16)(6.995,0.07)(6.995,0.12)(6.995,0.18)(6.995,0.24)(7.045,0.06)(7.045,0.11)(7.045,0.17)
(7.095,0.08)(7.095,0.13)(7.095,0.20)(7.095,0.28)(7.145,0.07)(7.145,0.12)(7.145,0.18)
(6.05,0.42)(6.15,0.46)(6.25,0.40)(6.35,0.44)(6.45,0.48)(6.55,0.42)(6.65,0.45)(6.75,0.40)(6.85,0.43)(6.95,0.47)(7.05,0.41)(6.16,0.57)(6.20,0.52)(6.20,0.64)(6.32,0.61)(6.40,0.72)(6.22,0.83)(6.40,0.83)(6.60,0.84)(6.62,0.96)(6.66,0.91)(6.36,0.97)(6.12,0.93)(6.46,1.06)(6.60,1.15)(6.62,1.10)(6.70,1.12)(6.80,1.07)(6.22,1.12)(6.78,1.25)(6.92,1.21)(7.02,1.23)(6.52,1.30)(6.18,1.39)(6.34,1.43)(6.58,1.44)(6.82,1.40)(6.82,1.33)(6.98,1.38)(6.80,1.49)(7.00,1.48)(6.36,1.76)(6.46,1.71)(6.50,1.66)(6.88,1.66)(7.02,1.63)(7.02,2.13)(7.13,1.20)(7.15,0.30)
};
\end{axis}
\node[font=\fontsize{21}{24}\selectfont] at (21,382) {b)};
\end{tikzpicture}
\end{document}
